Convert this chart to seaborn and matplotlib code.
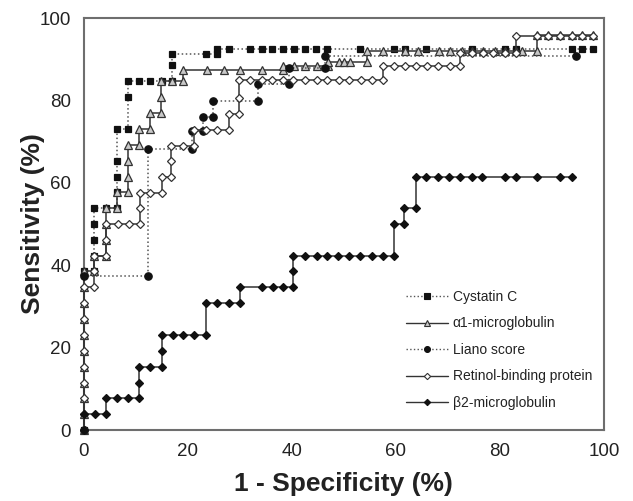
import matplotlib
matplotlib.use("Agg")
import matplotlib.pyplot as plt
from matplotlib.lines import Line2D
import seaborn as sns
import pandas as pd

# ---------------- data (1 - specificity %, sensitivity %) ----------------
series_names = ["Cystatin C", "\u03b11-microglobulin", "Liano score",
                "Retinol-binding protein", "\u03b22-microglobulin"]

cystatin_c = [(0, 0), (0, 38.5), (2.1, 38.5), (2.1, 42.3), (2.1, 46.2), (2.1, 50.0),
              (2.1, 53.8), (4.3, 53.8), (6.4, 53.8), (6.4, 57.7), (6.4, 61.5), (6.4, 65.4),
              (6.4, 73.1), (8.6, 73.1), (8.6, 80.8), (8.6, 84.6), (10.7, 84.6), (12.8, 84.6),
              (15.0, 84.6), (17.0, 84.6), (17.0, 88.5), (17.0, 91.3), (23.6, 91.3), (25.6, 91.3),
              (25.6, 92.6), (27.9, 92.6), (32.0, 92.6), (34.2, 92.6), (36.3, 92.6), (38.3, 92.6),
              (40.4, 92.6), (42.6, 92.6), (44.7, 92.6), (46.8, 92.6), (53.1, 92.6), (59.6, 92.6),
              (61.8, 92.6), (65.9, 92.6), (74.6, 92.6), (81.0, 92.6), (83.1, 92.6), (93.8, 92.6),
              (95.7, 92.6), (97.9, 92.6)]

alpha1_mg = [(0, 0), (0, 3.8), (0, 7.7), (0, 11.5), (0, 15.4), (0, 19.2), (0, 23.1),
             (0, 26.9), (0, 30.8), (0, 34.6), (0, 38.5), (2.1, 38.5), (2.1, 42.3), (4.3, 42.3),
             (4.3, 46.2), (4.3, 50.0), (4.3, 53.8), (6.4, 53.8), (6.4, 57.7), (8.5, 57.7),
             (8.5, 61.5), (8.5, 65.4), (8.5, 69.2), (10.6, 69.2), (10.6, 73.1), (12.8, 73.1),
             (12.8, 76.9), (14.9, 76.9), (14.9, 80.8), (14.9, 84.6), (17.0, 84.6), (19.1, 84.6),
             (19.1, 87.3), (23.7, 87.3), (26.9, 87.3), (30.1, 87.3), (34.3, 87.3), (38.4, 87.3),
             (38.4, 88.4), (40.4, 88.4), (42.6, 88.4), (44.8, 88.4), (46.9, 88.4), (46.9, 89.4),
             (49.0, 89.4), (50.1, 89.4), (51.2, 89.4), (54.4, 89.4), (54.4, 92.0), (57.6, 92.0),
             (61.8, 92.0), (64.3, 92.0), (68.3, 92.0), (70.4, 92.0), (72.7, 92.0), (74.6, 92.0),
             (76.8, 92.0), (79.1, 92.0), (81.0, 92.0), (83.1, 92.0), (84.2, 92.0), (87.1, 92.0),
             (87.1, 95.8), (89.3, 95.8), (91.5, 95.8), (93.8, 95.8), (95.7, 95.8), (97.9, 95.8)]

liano_score = [(0, 0), (0, 37.5), (12.4, 37.5), (12.4, 68.3), (20.8, 68.3), (20.8, 72.6),
               (22.9, 72.6), (22.9, 75.9), (24.9, 75.9), (24.9, 79.9), (33.6, 79.9), (33.6, 83.9),
               (39.4, 83.9), (39.4, 87.8), (46.4, 87.8), (46.4, 90.7), (94.7, 90.7)]

retinol_bp = [(0, 0), (0, 3.8), (0, 7.7), (0, 11.5), (0, 15.4), (0, 19.2), (0, 23.1),
              (0, 26.9), (0, 30.8), (0, 34.6), (2.1, 34.6), (2.1, 38.5), (2.1, 42.3), (4.4, 42.3),
              (4.4, 46.2), (4.4, 50.0), (6.6, 50.0), (8.7, 50.0), (10.8, 50.0), (10.8, 53.8),
              (10.8, 57.5), (12.8, 57.5), (15.0, 57.5), (15.0, 61.5), (16.9, 61.5), (16.9, 65.3),
              (16.9, 69.0), (19.2, 69.0), (21.3, 69.0), (21.3, 72.8), (23.5, 72.8), (25.6, 72.8),
              (27.9, 72.8), (27.9, 76.8), (29.8, 76.8), (29.8, 80.6), (29.8, 84.9), (32.0, 84.9),
              (34.2, 84.9), (36.3, 84.9), (38.4, 84.9), (40.3, 84.9), (42.6, 84.9), (44.8, 84.9),
              (46.8, 84.9), (49.0, 84.9), (51.1, 84.9), (53.3, 84.9), (55.4, 84.9), (57.6, 84.9),
              (57.6, 88.4), (59.7, 88.4), (61.8, 88.4), (63.9, 88.4), (66.0, 88.4), (68.2, 88.4),
              (70.4, 88.4), (72.3, 88.4), (72.3, 91.6), (74.6, 91.6), (76.8, 91.6), (78.7, 91.6),
              (81.0, 91.6), (83.1, 91.6), (83.1, 95.6), (87.1, 95.6), (89.3, 95.6), (91.5, 95.6),
              (93.8, 95.6), (95.7, 95.6), (97.9, 95.6)]

beta2_mg = [(0, 0), (0, 3.8), (2.2, 3.8), (4.4, 3.8), (4.4, 7.7), (6.4, 7.7), (8.6, 7.7),
            (10.7, 7.7), (10.7, 11.5), (10.7, 15.4), (12.8, 15.4), (15.0, 15.4), (15.0, 19.2),
            (15.0, 23.1), (17.1, 23.1), (19.2, 23.1), (21.3, 23.1), (23.5, 23.1), (23.5, 30.8),
            (25.6, 30.8), (27.9, 30.8), (30.0, 30.8), (30.0, 34.6), (34.2, 34.6), (36.4, 34.6),
            (38.4, 34.6), (40.3, 34.6), (40.3, 38.5), (40.3, 42.3), (42.6, 42.3), (44.8, 42.3),
            (46.8, 42.3), (48.9, 42.3), (51.1, 42.3), (53.1, 42.3), (55.4, 42.3), (57.5, 42.3),
            (59.7, 42.3), (59.7, 50.0), (61.6, 50.0), (61.6, 53.8), (63.8, 53.8), (63.8, 61.5),
            (65.9, 61.5), (68.2, 61.5), (70.3, 61.5), (72.3, 61.5), (74.6, 61.5), (76.5, 61.5),
            (81.0, 61.5), (83.1, 61.5), (87.1, 61.5), (91.5, 61.5), (93.8, 61.5)]

x_ticks = [0, 20, 40, 60, 80, 100]
y_ticks = [0, 20, 40, 60, 80, 100]

# ---------------- styling ----------------
sns.set_style("white")
plt.rcParams['font.family'] = ['Liberation Sans', 'DejaVu Sans']

styles = {
    "Cystatin C": dict(ls=":", lc="#555555", marker="s", ms=5.0, mfc="#111111", mec="#111111"),
    "\u03b11-microglobulin": dict(ls="-", lc="#333333", marker="^", ms=5.5, mfc="#c8c8c8", mec="#333333"),
    "Liano score": dict(ls=":", lc="#555555", marker="o", ms=5.3, mfc="#111111", mec="#111111"),
    "Retinol-binding protein": dict(ls="-", lc="#333333", marker="D", ms=4.0, mfc="white", mec="#333333"),
    "\u03b22-microglobulin": dict(ls="-", lc="#333333", marker="D", ms=4.0, mfc="#111111", mec="#111111"),
}

all_series = [cystatin_c, alpha1_mg, liano_score, retinol_bp, beta2_mg]

fig = plt.figure(figsize=(6.33, 5.01), dpi=100)
ax = fig.add_axes([0.132, 0.1417, 0.822, 0.8223])

order = [4, 2, 3, 1, 0]
for i in order:
    name = series_names[i]
    st = styles[name]
    df = pd.DataFrame(all_series[i], columns=["fpr", "tpr"])
    sns.lineplot(data=df, x="fpr", y="tpr", ax=ax, sort=False, estimator=None,
                 color=st["lc"], linestyle=st["ls"], linewidth=1.1,
                 marker=st["marker"], markersize=st["ms"],
                 markerfacecolor=st["mfc"], markeredgecolor=st["mec"],
                 markeredgewidth=0.9, clip_on=False, zorder=3 + i)

ax.set_xlim(0, 100)
ax.set_ylim(0, 100)
ax.set_xticks(x_ticks)
ax.set_yticks(y_ticks)
ax.tick_params(axis="both", direction="out", length=5, width=1.2, color="#666666",
               labelsize=13.5, labelcolor="#222222", pad=4)
for sp in ax.spines.values():
    sp.set_color("#6e6e6e")
    sp.set_linewidth(1.5)
    sp.set_visible(True)

ax.set_xlabel("1 - Specificity (%)", fontsize=19, fontweight="bold", color="#222222", labelpad=9)
ax.set_ylabel("Sensitivity (%)", fontsize=19, fontweight="bold", color="#222222", labelpad=-4)

handles = []
for name in series_names:
    st = styles[name]
    handles.append(Line2D([0], [0], color=st["lc"], linestyle=st["ls"], linewidth=1.0,
                          marker=st["marker"], markersize=st["ms"] * 0.8,
                          markerfacecolor=st["mfc"], markeredgecolor=st["mec"], markeredgewidth=0.8))
leg = ax.legend(handles, series_names, loc="upper left", bbox_to_anchor=(0.62, 0.34),
                frameon=False, fontsize=10, handlelength=3.0, handletextpad=0.35,
                labelspacing=0.9, borderpad=0, borderaxespad=0)
for t in leg.get_texts():
    t.set_color("#222222")

fig.savefig("out.png", dpi=100)
